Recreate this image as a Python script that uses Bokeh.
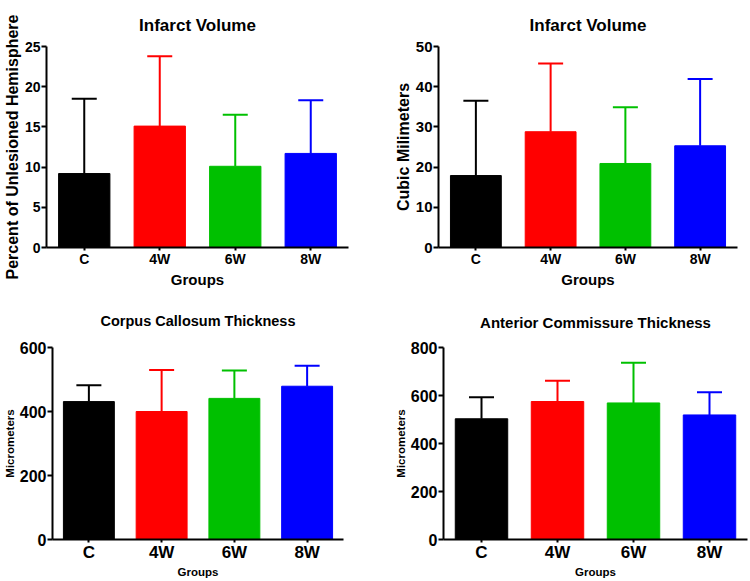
from bokeh.plotting import figure
from bokeh.layouts import column, row
from bokeh.models import FactorRange, Range1d, FixedTicker, ColumnDataSource
from bokeh.embed import file_html
from bokeh.resources import INLINE

groups = ["C", "4W", "6W", "8W"]
colors = ["#000000", "#FF0000", "#00C000", "#0000FF"]

infarct_pct_mean = [9.2, 15.1, 10.1, 11.7]
infarct_pct_upper = [18.5, 23.8, 16.5, 18.3]
infarct_mm3_mean = [17.9, 28.8, 20.9, 25.3]
infarct_mm3_upper = [36.5, 45.8, 34.9, 41.9]
cc_mean = [431, 400, 441, 479]
cc_upper = [482, 530, 528, 543]
ac_mean = [503, 575, 569, 519]
ac_upper = [593, 661, 736, 614]

FONT = "Liberation Sans"


def panel(title, mean, upper, ymax, ystep, ylabel, w, h, borders,
          title_size, title_standoff, ytick_size, xtick_size,
          ylabel_size, xlabel_size, bar_w=0.68, cap=25):
    src = ColumnDataSource(dict(g=groups, m=mean, u=upper, c=colors))
    bl, br, bt, bb = borders
    p = figure(x_range=FactorRange(*groups), y_range=Range1d(0, ymax),
               width=w, height=h, output_backend="svg", toolbar_location=None,
               min_border_left=bl, min_border_right=br,
               min_border_top=bt, min_border_bottom=bb)
    p.outline_line_color = None
    p.xgrid.visible = False
    p.ygrid.visible = False
    p.background_fill_color = "white"
    p.border_fill_color = "white"

    p.title.text = title
    p.title.align = "center"
    p.title.standoff = title_standoff
    p.title.text_font = FONT
    p.title.text_font_style = "bold"
    p.title.text_font_size = f"{title_size}px"
    p.title.text_color = "black"

    p.vbar(x="g", top="m", bottom=0, width=bar_w, fill_color="c",
           line_color="c", line_width=1, source=src)
    p.segment(x0="g", y0="m", x1="g", y1="u", line_color="c",
              line_width=2, source=src)
    p.scatter(x="g", y="u", marker="dash", size=cap, line_color="c",
              line_width=2, source=src)

    ya = p.yaxis[0]
    ya.ticker = FixedTicker(ticks=list(range(0, ymax + 1, ystep)))
    ya.axis_label = ylabel
    xa = p.xaxis[0]
    xa.axis_label = "Groups"
    for ax in (xa, ya):
        ax.axis_line_width = 2
        ax.axis_line_color = "black"
        ax.major_tick_line_width = 2
        ax.major_tick_line_color = "black"
        ax.minor_tick_line_color = None
        ax.major_tick_in = 0
        ax.major_label_text_font = FONT
        ax.major_label_text_font_style = "bold"
        ax.major_label_text_color = "black"
        ax.axis_label_text_font = FONT
        ax.axis_label_text_font_style = "bold"
        ax.axis_label_text_color = "black"
    ya.major_tick_out = 5
    xa.major_tick_out = 3
    ya.major_label_standoff = 1
    xa.major_label_standoff = 0
    ya.axis_label_standoff = 1
    xa.axis_label_standoff = 1
    ya.major_label_text_font_size = f"{ytick_size}px"
    xa.major_label_text_font_size = f"{xtick_size}px"
    ya.axis_label_text_font_size = f"{ylabel_size}px"
    xa.axis_label_text_font_size = f"{xlabel_size}px"
    return p


p1 = panel("Infarct Volume", infarct_pct_mean, infarct_pct_upper, 25, 5,
           "Percent of Unlesioned Hemisphere", 375, 290, (43, 27, 46, 41),
           17, 24, 14, 14, 16, 15)
p2 = panel("Infarct Volume", infarct_mm3_mean, infarct_mm3_upper, 50, 10,
           "Cubic Milimeters", 374, 290, (63, 12, 46, 40),
           17, 24, 15, 14, 16, 15)
p3 = panel("Corpus Callosum Thickness", cc_mean, cc_upper, 600, 200,
           "Micrometers", 375, 290, (48, 32, 57, 39),
           14.5, 38, 16, 17, 11.5, 11.5, bar_w=0.7)
p4 = panel("Anterior Commissure Thickness", ac_mean, ac_upper, 800, 200,
           "Micrometers", 374, 290, (68, 2, 53, 39),
           15, 33, 16, 17, 11.5, 11.5, bar_w=0.69)

layout = column(row(p1, p2), row(p3, p4))
open("out.html", "w").write(file_html(layout, INLINE))
